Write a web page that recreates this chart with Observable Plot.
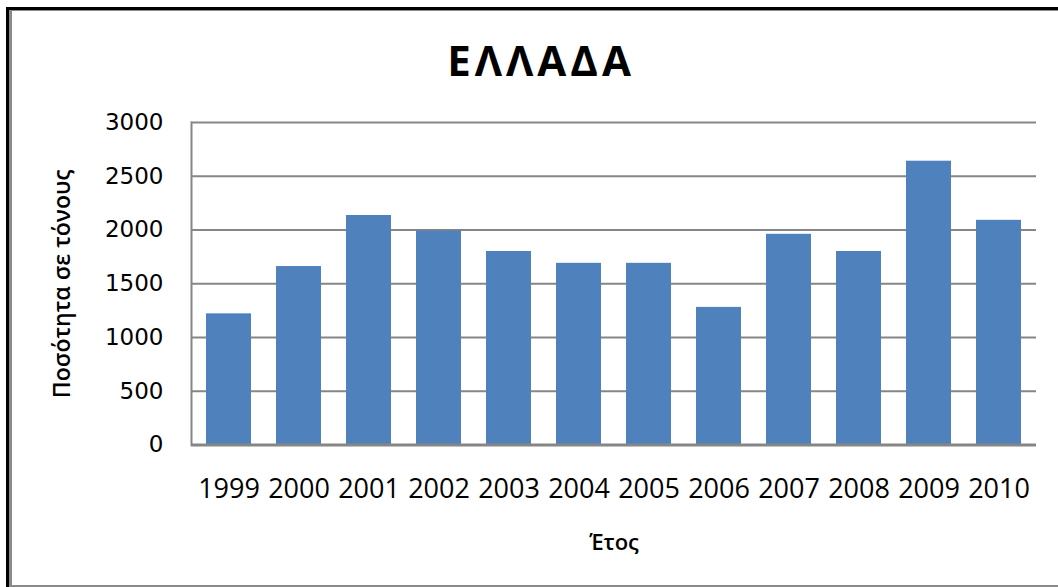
<!DOCTYPE html>
<html>
<head>
<meta charset="utf-8">
<script src="https://cdn.jsdelivr.net/npm/d3@7"></script>
<script src="https://cdn.jsdelivr.net/npm/@observablehq/plot@0.6"></script>
<style>
  html, body { margin: 0; padding: 0; background: #fff; }
  #wrap { position: relative; width: 1058px; height: 587px; overflow: hidden; background: #fff; }
  #title { height: 100px; width: 1058px; position: relative; }
  #title span { position: absolute; left: 0; width: 1082px; text-align: center; top: 39px;
    font-family: "Open Sans", sans-serif; font-weight: 700; font-size: 42px; letter-spacing: 4px; line-height: 1; color: #000; }
  .bl { position: absolute; pointer-events: none; }
  svg g[aria-label="y-axis tick label"] text { font-family: "DejaVu Sans", sans-serif; font-size: 23px; fill: #000; }
  svg g[aria-label="x-axis tick label"] text { font-family: "Open Sans", sans-serif; font-size: 27px; fill: #000; }
  svg g[aria-label="y-axis label"] text { font-family: "Open Sans", sans-serif; font-size: 23px; font-weight: 600; fill: #000; }
  svg g[aria-label="x-axis label"] text { font-family: "Open Sans", sans-serif; font-size: 22px; font-weight: 600; fill: #000; }
</style>
</head>
<body>
<div id="wrap">
  <div id="title"><span>ΕΛΛΑΔΑ</span></div>
  <div id="chart"></div>
  <div class="bl" style="left:6px;top:7px;width:3px;height:580px;background:#000"></div>
  <div class="bl" style="left:9px;top:10px;width:3px;height:577px;background:#8a8a8a"></div>
  <div class="bl" style="left:6px;top:7px;width:1052px;height:3px;background:#000"></div>
  <div class="bl" style="left:9px;top:10px;width:1049px;height:1px;background:#8a8a8a"></div>
  <div class="bl" style="left:9px;top:585px;width:1049px;height:2px;background:#8a8a8a"></div>
</div>
<script>
const years = ["1999","2000","2001","2002","2003","2004","2005","2006","2007","2008","2009","2010"];
const values = [1220, 1660, 2135, 1990, 1800, 1690, 1690, 1280, 1960, 1800, 2640, 2090];
const yTicks = [0, 500, 1000, 1500, 2000, 2500, 3000];

const data = years.map((y, i) => ({year: y, value: values[i]}));

const chart = Plot.plot({
  width: 1058,
  height: 487,
  marginLeft: 191,
  marginRight: 22,
  marginTop: 22,
  marginBottom: 142.5,
  style: {background: "transparent", overflow: "visible"},
  x: {domain: years, paddingInner: 0.36, paddingOuter: 0.18},
  y: {domain: [0, 3000]},
  marks: [
    Plot.gridY(yTicks, {stroke: "#868686", strokeOpacity: 1, strokeWidth: 2}),
    Plot.frame({anchor: "left", stroke: "#868686", strokeWidth: 2}),
    Plot.barY(data, {x: "year", y: "value", fill: "#4F81BD"}),
    Plot.ruleY([0], {stroke: "#868686", strokeWidth: 3}),
    Plot.axisY(yTicks, {tickSize: 0, tickPadding: 28, tickFormat: d => String(d), label: "Ποσότητα σε τόνους", labelAnchor: "center", labelOffset: 138, labelArrow: "none"}),
    Plot.axisX({tickSize: 0, tickPadding: 34, label: "Έτος", labelAnchor: "center", labelOffset: 105, labelArrow: "none"})
  ]
});
document.getElementById("chart").appendChild(chart);
</script>
</body>
</html>
